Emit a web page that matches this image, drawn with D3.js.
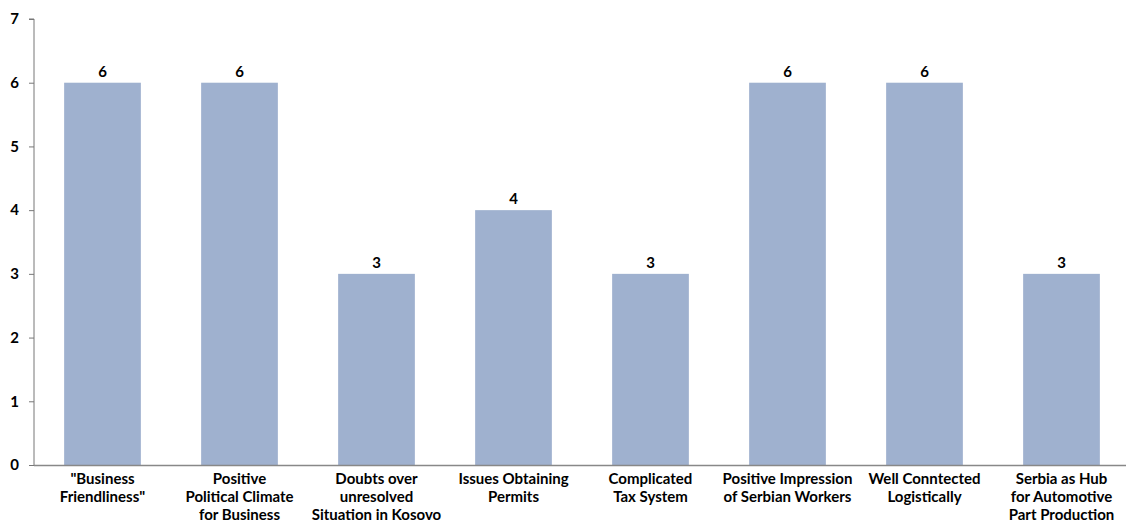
<!DOCTYPE html>
<html><head><meta charset="utf-8">
<script src="https://cdn.jsdelivr.net/npm/d3@7"></script>
<style>
body{margin:0;background:#fff;}
text{font-family:Lato,"Open Sans",sans-serif;font-weight:bold;}
</style></head>
<body><svg id="c" width="1126" height="522"></svg>
<script>
const categories = [
  ["\"Business","Friendliness\""],
  ["Positive","Political Climate","for Business"],
  ["Doubts over","unresolved","Situation in Kosovo"],
  ["Issues Obtaining","Permits"],
  ["Complicated","Tax System"],
  ["Positive Impression","of Serbian Workers"],
  ["Well Conntected","Logistically"],
  ["Serbia as Hub","for Automotive","Part Production"]
];
const values = [6, 6, 3, 4, 3, 6, 6, 3];
const yTicks = [0,1,2,3,4,5,6,7];

(function(){
const svg = d3.select("#c");
const mLeft = 34, mRight = 1130, mTop = 19, mBottom = 465;
const keys = categories.map((d,i)=>i);
const x = d3.scaleBand().domain(keys).range([mLeft,mRight]).paddingInner(0.44).paddingOuter(0.22);
const y = d3.scaleLinear().domain([0,7]).range([mBottom,mTop]);

svg.selectAll("rect.bar").data(values).join("rect")
  .attr("x",(d,i)=>x(i)).attr("width",x.bandwidth())
  .attr("y",d=>y(d)).attr("height",d=>y(0)-y(d))
  .attr("fill","#9FB1CF");

svg.selectAll("text.val").data(values).join("text")
  .attr("x",(d,i)=>x(i)+x.bandwidth()/2).attr("y",d=>y(d)-6)
  .attr("text-anchor","middle").attr("font-size",15).attr("fill","#000")
  .text(d=>d);

const ya = svg.append("g").attr("transform",`translate(${mLeft},0)`)
  .call(d3.axisLeft(y).tickValues(yTicks).tickSize(5).tickPadding(10).tickFormat(d3.format("d")));
ya.select(".domain").attr("stroke","#777").attr("d",`M-5,${mTop}H0V${mBottom}`);
ya.selectAll(".tick line").attr("stroke","#777");
ya.selectAll(".tick text").attr("font-size",15).attr("fill","#000").attr("font-family","Lato,sans-serif").attr("font-weight","bold");

svg.append("line").attr("x1",mLeft).attr("x2",1126).attr("y1",mBottom+0.5).attr("y2",mBottom+0.5).attr("stroke","#888").attr("stroke-width",1.5);

const lab = svg.selectAll("text.cat").data(categories).join("text")
  .attr("text-anchor","middle").attr("font-size",15).attr("fill","#000");
lab.each(function(lines,i){
  const t = d3.select(this);
  lines.forEach((l,j)=>{
    t.append("tspan").attr("x",x(i)+x.bandwidth()/2).attr("y",mBottom+19+j*18).text(l);
  });
});
})();
</script></body></html>
